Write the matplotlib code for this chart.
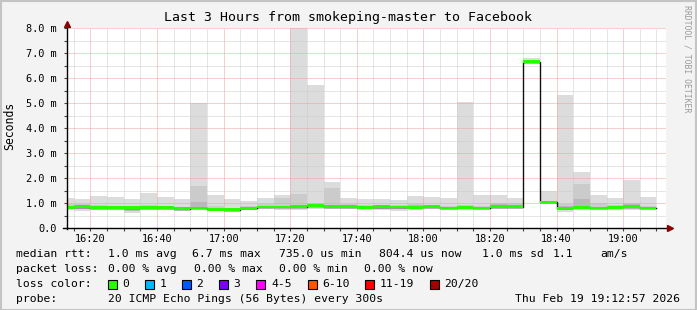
import numpy as np
import matplotlib
matplotlib.use('Agg')
import matplotlib.pyplot as plt
from matplotlib.patches import Rectangle
from matplotlib.lines import Line2D

# 数据: 每5分钟一个区间, 从16:10开始 (分钟, 以16:00为0)
bin_start = [10 + 5 * i for i in range(36)]
median = [0.83, 0.86, 0.82, 0.81, 0.81, 0.81, 0.81, 0.77, 0.80, 0.75, 0.735, 0.79,
          0.84, 0.84, 0.86, 0.89, 0.86, 0.86, 0.83, 0.85, 0.84, 0.83, 0.85, 0.80,
          0.83, 0.80, 0.86, 0.86, 6.65, 1.04, 0.79, 0.83, 0.80, 0.83, 0.86, 0.804]
smoke_lo = [0.72, 0.70, 0.74, 0.72, 0.61, 0.74, 0.73, 0.70, 0.72, 0.68, 0.64, 0.72,
            0.76, 0.74, 0.74, 0.78, 0.76, 0.77, 0.74, 0.72, 0.69, 0.74, 0.77, 0.72,
            0.74, 0.73, 0.75, 0.76, 6.58, 0.98, 0.66, 0.72, 0.72, 0.74, 0.72, 0.72]
smoke_hi = [1.21, 1.16, 1.28, 1.24, 1.16, 1.41, 1.24, 1.16, 5.00, 1.34, 1.16, 1.08,
            1.21, 1.32, 8.50, 5.73, 1.84, 1.21, 1.16, 1.15, 1.12, 1.28, 1.24, 1.22,
            5.03, 1.33, 1.31, 1.21, 6.78, 1.48, 5.34, 2.25, 1.32, 1.21, 1.93, 1.24]
mid_lo = [0.77, 0.78, 0.78, 0.76, 0.70, 0.77, 0.77, 0.72, 0.76, 0.71, 0.68, 0.75,
          0.80, 0.79, 0.80, 0.84, 0.81, 0.82, 0.78, 0.78, 0.76, 0.78, 0.81, 0.75,
          0.78, 0.76, 0.80, 0.81, 6.62, 1.00, 0.72, 0.77, 0.75, 0.78, 0.80, 0.75]
mid_hi = [0.95, 0.95, 0.92, 0.90, 0.90, 0.92, 0.90, 0.86, 1.70, 0.88, 0.82, 0.88,
          0.95, 1.19, 1.38, 1.02, 1.60, 0.95, 0.92, 0.92, 0.92, 0.95, 0.93, 0.90,
          0.92, 0.90, 1.01, 1.00, 6.72, 1.10, 0.95, 1.77, 1.00, 0.92, 1.00, 0.88]
dark_hi = [0.88, 0.90, 0.86, 0.85, 0.86, 0.85, 0.85, 0.80, 1.05, 0.80, 0.76, 0.82,
           0.88, 0.90, 0.92, 0.93, 0.92, 0.90, 0.87, 0.88, 0.90, 0.94, 0.88, 0.84,
           0.87, 0.84, 0.97, 0.90, 6.68, 1.07, 0.88, 1.16, 0.86, 0.88, 0.97, 0.83]

x_ticks = [20, 40, 60, 80, 100, 120, 140, 160, 180]
x_labels = ['16:20', '16:40', '17:00', '17:20', '17:40', '18:00', '18:20', '18:40', '19:00']
y_ticks = [0, 1, 2, 3, 4, 5, 6, 7, 8]
y_labels = ['0.0', '1.0 m', '2.0 m', '3.0 m', '4.0 m', '5.0 m', '6.0 m', '7.0 m', '8.0 m']

loss_names = ['0', '1', '2', '3', '4-5', '6-10', '11-19', '20/20']
loss_colors = ['#26ff00', '#00b8ff', '#0059ff', '#7e00ff', '#ff00ff', '#ff5500', '#ff0000', '#a10000']

W, H = 697, 310
mono = 'DejaVu Sans Mono'


def fx(x):
    return x / W


def fy(y):
    return 1 - y / H


fig = plt.figure(figsize=(W / 100, H / 100), dpi=100, facecolor='#f3f3f3')
ax = fig.add_axes([fx(67), fy(228), 599.3 / W, 200 / H])
ax.set_facecolor('white')

x0 = np.array(bin_start, dtype=float)
lo = np.array(smoke_lo)
hi = np.array(smoke_hi)
mlo = np.array(mid_lo)
mhi = np.array(mid_hi)
dhi = np.array(dark_hi)
med = np.array(median)

# 烟雾 (灰色带)
ax.bar(x0, hi - lo, bottom=lo, width=5, align='edge', color='#dcdcdc', linewidth=0, zorder=1)
ax.bar(x0, mhi - mlo, bottom=mlo, width=5, align='edge', color='#cbcbcb', linewidth=0, zorder=1.2)
ax.bar(x0, dhi - mlo, bottom=mlo, width=5, align='edge', color='#b9b9b9', linewidth=0, zorder=1.4)

# 中位数
edges = np.append(x0, x0[-1] + 5)
ax.step(edges, np.append(med, med[-1]), where='post', color='#111111', lw=1.0, zorder=3)
ax.bar(x0, 0.11, bottom=med - 0.055, width=5, align='edge', color=loss_colors[0], linewidth=0, zorder=3.5)

ax.set_xlim(12.95, 192.95)
ax.set_ylim(0, 8.0)
ax.set_xticks(x_ticks)
ax.set_xticklabels(x_labels, family=mono, fontsize=7.4)
ax.set_xticks(list(range(15, 195, 5)), minor=True)
ax.set_yticks(y_ticks)
ax.set_yticklabels(y_labels, family=mono, fontsize=7.4)
ax.set_yticks(np.arange(0.5, 8, 1.0), minor=True)
ax.tick_params(axis='both', which='both', length=2, width=0.8, color='#444444', direction='out')
ax.tick_params(axis='x', pad=2.5)
ax.tick_params(axis='y', pad=5.5)

ax.set_axisbelow(False)
ax.grid(which='major', color='#f0a0a0', linestyle=(0, (1, 1)), linewidth=0.72, zorder=2.5)
ax.grid(which='minor', color='#cccccc', linestyle=(0, (1, 1)), linewidth=0.72, zorder=2.4)
for s in ax.spines.values():
    s.set_visible(False)

# 坐标轴线和箭头
fig.add_artist(Line2D([fx(67), fx(67)], [fy(229), fy(24)], color='black', lw=1.0))
fig.add_artist(Line2D([fx(63), fx(669)], [fy(228), fy(228)], color='black', lw=1.0))
fig.add_artist(Line2D([fx(67)], [fy(24)], marker='^', color='#8b0000', markersize=4.5, lw=0))
fig.add_artist(Line2D([fx(670)], [fy(228)], marker='>', color='#8b0000', markersize=4.5, lw=0))

# 标题和标签
fig.text(fx(348), fy(18), 'Last 3 Hours from smokeping-master to Facebook',
         ha='center', va='center', family=mono, fontsize=9.5)
fig.text(fx(10), fy(126), 'Seconds', rotation=90, ha='center', va='center', family=mono, fontsize=8.3)
fig.text(fx(687), fy(5), 'RRDTOOL / TOBI OETIKER', rotation=270, ha='center', va='top',
         family=mono, fontsize=5.9, color='#9a9a9a')

fs = 8.2
row1 = [(16, 'median rtt:'), (107.6, '1.0 ms avg'), (192.4, '6.7 ms max'), (279, '735.0 us min'),
        (379, '804.4 us now'), (482, '1.0 ms sd'), (552.4, '1.1'), (600, 'am/s')]
row2 = [(16, 'packet loss:'), (107.6, '0.00 % avg'), (194.2, '0.00 % max'), (279, '0.00 % min'),
        (364.4, '0.00 % now')]
for x, t in row1:
    fig.text(fx(x), fy(254), t, ha='left', va='center', family=mono, fontsize=fs)
for x, t in row2:
    fig.text(fx(x), fy(269), t, ha='left', va='center', family=mono, fontsize=fs)

fig.text(fx(16), fy(284), 'loss color:', ha='left', va='center', family=mono, fontsize=fs)
box_x = [108, 145, 182, 219, 256.4, 307.6, 365.3, 430]
for bx, name, col in zip(box_x, loss_names, loss_colors):
    fig.add_artist(Rectangle((fx(bx), fy(288.5)), 9 / W, 9 / H, facecolor=col,
                             edgecolor='black', linewidth=0.8))
    fig.text(fx(bx + 14.5), fy(284), name, ha='left', va='center', family=mono, fontsize=fs)

fig.text(fx(16), fy(299), 'probe:', ha='left', va='center', family=mono, fontsize=fs)
fig.text(fx(107.6), fy(299), '20 ICMP Echo Pings (56 Bytes) every 300s', ha='left', va='center',
         family=mono, fontsize=fs)
fig.text(fx(680), fy(299), 'Thu Feb 19 19:12:57 2026', ha='right', va='center', family=mono, fontsize=fs)

# 外框
fig.add_artist(Rectangle((0.5 / W, 0.5 / H), 1 - 1.5 / W, 1 - 1.5 / H, fill=False,
                         edgecolor='#c4c4c4', linewidth=1.5))

fig.savefig('out.png', dpi=100, facecolor=fig.get_facecolor())
